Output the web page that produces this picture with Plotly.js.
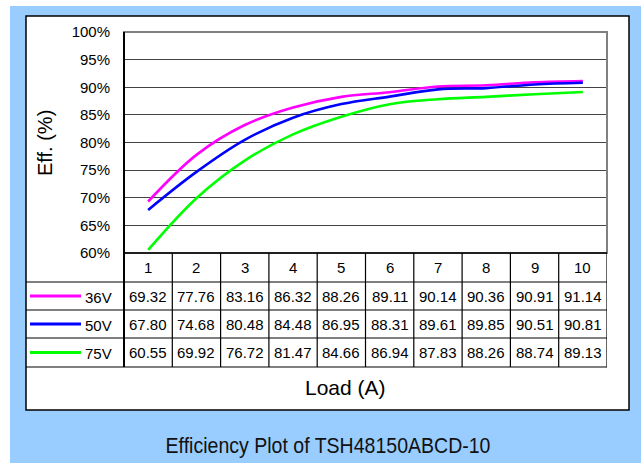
<!DOCTYPE html>
<html>
<head>
<meta charset="utf-8">
<script src="https://cdn.plot.ly/plotly-3.0.1.min.js"></script>
<style>html,body{margin:0;padding:0;background:#fff;}#chart{width:641px;height:463px;}</style>
</head>
<body>
<div id="chart"></div>
<script>
// ---- data ----
const loads = [1, 2, 3, 4, 5, 6, 7, 8, 9, 10];
const seriesNames = ["36V", "50V", "75V"];
const eff36 = [69.32, 77.76, 83.16, 86.32, 88.26, 89.11, 90.14, 90.36, 90.91, 91.14];
const eff50 = [67.80, 74.68, 80.48, 84.48, 86.95, 88.31, 89.61, 89.85, 90.51, 90.81];
const eff75 = [60.55, 69.92, 76.72, 81.47, 84.66, 86.94, 87.83, 88.26, 88.74, 89.13];
const seriesColors = ["#FF00FF", "#0000FF", "#00FF00"];
const chartTitle = "Efficiency Plot of TSH48150ABCD-10";
const xTitle = "Load (A)";
const yTitle = "Eff. (%)";

// ---- layout helpers (pixel -> paper) ----
const W = 641, H = 463;
const px = x => x / W;
const py = y => 1 - y / H;
const FONT = "Liberation Sans, Arial, sans-serif";

const plotL = 124, plotR = 607, plotT = 32, plotB = 253;
const rowLines = [282, 310, 338, 367];
const series = [eff36, eff50, eff75];

const traces = series.map((vals, i) => ({
  x: loads, y: vals, type: "scatter", mode: "lines",
  name: seriesNames[i],
  line: {color: seriesColors[i], width: 2.6, shape: "spline", smoothing: 1},
  hoverinfo: "x+y"
}));

const shapes = [];
const annotations = [];

// blue background + white box
shapes.push({type: "rect", xref: "paper", yref: "paper", x0: px(10), x1: px(641), y0: py(463), y1: py(6),
  fillcolor: "#99CCFF", line: {width: 0}, layer: "below"});
shapes.push({type: "rect", xref: "paper", yref: "paper", x0: px(26), x1: px(629), y0: py(410), y1: py(16),
  fillcolor: "#FFFFFF", line: {color: "#000", width: 1.5}, layer: "below"});

// plot border
shapes.push({type: "rect", xref: "paper", yref: "paper", x0: px(plotL), x1: px(plotR), y0: py(plotB), y1: py(plotT),
  line: {color: "#808080", width: 2}, layer: "above"});
shapes.push({type: "line", xref: "paper", yref: "paper", x0: px(plotL), x1: px(plotL), y0: py(367), y1: py(plotT),
  line: {color: "#000", width: 2}});
shapes.push({type: "line", xref: "paper", yref: "paper", x0: px(plotL), x1: px(plotR), y0: py(plotB), y1: py(plotB),
  line: {color: "#000", width: 1.5}});

// table vertical lines (column boundaries from categories)
loads.forEach((v, i) => {
  shapes.push({type: "line", xref: "x", yref: "paper", x0: v + 0.5, x1: v + 0.5, y0: py(367), y1: py(plotB),
    line: {color: "#000", width: 1.2}});
});
// table horizontal lines
rowLines.forEach(y => {
  shapes.push({type: "line", xref: "paper", yref: "paper", x0: px(26), x1: px(plotR), y0: py(y), y1: py(y),
    line: {color: "#000", width: 1.2}});
});

// header row
loads.forEach(v => {
  annotations.push({xref: "x", yref: "paper", x: v, y: py((plotB + rowLines[0]) / 2), text: String(v),
    showarrow: false, font: {family: FONT, size: 15, color: "#000"}, xanchor: "center", yanchor: "middle"});
});
// data rows
series.forEach((vals, i) => {
  const yc = (rowLines[i] + rowLines[i + 1]) / 2;
  vals.forEach((val, j) => {
    annotations.push({xref: "x", yref: "paper", x: loads[j], y: py(yc), text: val.toFixed(2),
      showarrow: false, font: {family: FONT, size: 15, color: "#000"}, xanchor: "center", yanchor: "middle"});
  });
  shapes.push({type: "line", xref: "paper", yref: "paper", x0: px(30), x1: px(81), y0: py(yc), y1: py(yc),
    line: {color: seriesColors[i], width: 3}});
  annotations.push({xref: "paper", yref: "paper", x: px(83), y: py(yc + 1), text: seriesNames[i],
    showarrow: false, font: {family: FONT, size: 15, color: "#000"}, xanchor: "left", yanchor: "middle"});
});

// titles
annotations.push({xref: "paper", yref: "paper", x: px(45), y: py(143), text: yTitle, textangle: -90,
  showarrow: false, font: {family: FONT, size: 20, color: "#000"}, xanchor: "center", yanchor: "middle"});
annotations.push({xref: "paper", yref: "paper", x: px(345.5), y: py(387.5), text: xTitle,
  showarrow: false, font: {family: FONT, size: 21, color: "#000"}, xanchor: "center", yanchor: "middle"});
const captionIndex = annotations.length;
annotations.push({xref: "paper", yref: "paper", x: px(327.5), y: py(445), text: chartTitle,
  showarrow: false, font: {family: FONT, size: 22, color: "#111"},
  xanchor: "center", yanchor: "middle"});

const layout = {
  width: W, height: H,
  margin: {l: 0, r: 0, t: 0, b: 0, pad: 0},
  paper_bgcolor: "#FFFFFF", plot_bgcolor: "rgba(0,0,0,0)",
  showlegend: false,
  font: {family: FONT, size: 15, color: "#000"},
  xaxis: {domain: [px(plotL), px(plotR)], range: [0.5, 10.5], showticklabels: false, showgrid: false,
    zeroline: false, showline: false, ticks: "", fixedrange: true},
  yaxis: {domain: [py(plotB), py(plotT)], range: [60, 100], dtick: 5, tick0: 60, ticksuffix: "%",
    showgrid: true, gridcolor: "#444", gridwidth: 1, zeroline: false, showline: false,
    ticks: "outside", ticklen: 10, tickcolor: "rgba(0,0,0,0)",
    tickfont: {family: FONT, size: 15, color: "#000"}, fixedrange: true},
  shapes: shapes,
  annotations: annotations
};

Plotly.newPlot("chart", traces, layout, {displayModeBar: false, staticPlot: true}).then(gd => {
  // condense the caption horizontally (narrow typeface look)
  const groups = gd.querySelectorAll("g.annotation");
  const g = groups[captionIndex];
  if (g) {
    const t = g.querySelector("text");
    if (t) {
      const bb = t.getBBox();
      const cx = bb.x + bb.width / 2;
      const s = 325 / bb.width;
      t.setAttribute("transform", "translate(" + cx + ",0) scale(" + s + ",1) translate(" + (-cx) + ",0)");
    }
  }
});
</script>
</body>
</html>
